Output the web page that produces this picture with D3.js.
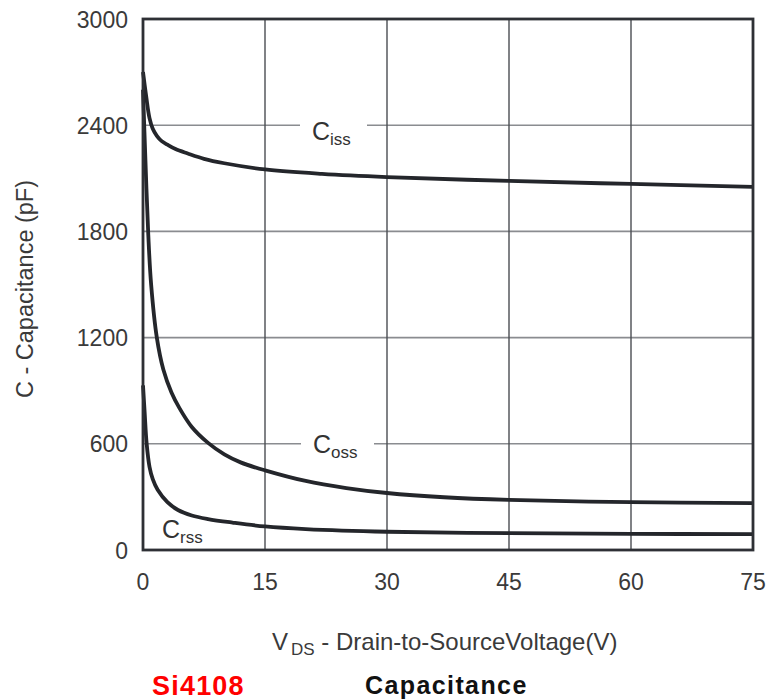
<!DOCTYPE html>
<html>
<head>
<meta charset="utf-8">
<script src="https://cdn.jsdelivr.net/npm/d3@7/dist/d3.min.js"></script>
<style>
  body { margin: 0; background: #fff; }
  svg { display: block; font-family: "Liberation Sans", Arial, sans-serif; }
</style>
</head>
<body>
<svg id="chart" width="767" height="700"></svg>
<script>
// values (V in volts, C in pF)
const ciss = [[0, 2700], [0.4, 2560], [0.8, 2440], [1.2, 2380], [1.7, 2340], [2.3, 2310], [3, 2290], [4, 2265], [5.5, 2240], [7.5, 2210], [10, 2185], [15, 2150], [22, 2125], [30, 2107], [45, 2085], [60, 2068], [75, 2052]];
const coss = [[0, 2600], [0.3, 2200], [0.65, 1780], [1, 1500], [1.7, 1200], [2.5, 1020], [3.5, 890], [4.5, 800], [6, 695], [8, 605], [10, 540], [12, 495], [15, 450], [20, 390], [25, 350], [30, 322], [37, 298], [45, 283], [60, 270], [75, 265]];
const crss = [[0, 930], [0.2, 780], [0.45, 600], [0.8, 470], [1.2, 400], [1.8, 340], [3, 270], [4.3, 226], [6, 195], [8, 175], [11, 155], [15, 133], [20, 118], [30, 103], [45, 95], [60, 91], [75, 90]];
const seriesNames = ['iss', 'oss', 'rss'];
const xTicks = [0, 15, 30, 45, 60, 75];
const yTicks = [0, 600, 1200, 1800, 2400, 3000];

const plotL = 143, plotR = 753, plotT = 19, plotB = 550;
const svg = d3.select('#chart');

const x = d3.scaleLinear().domain([0, 75]).range([plotL, plotR]);
const y = d3.scaleLinear().domain([0, 3000]).range([plotB, plotT]);

// grid
svg.append('g').selectAll('line')
  .data(yTicks.slice(1, -1))
  .join('line')
  .attr('x1', plotL).attr('x2', plotR)
  .attr('y1', d => y(d)).attr('y2', d => y(d))
  .attr('stroke', '#8a8c90').attr('stroke-width', 1.6);

svg.append('g').selectAll('line')
  .data(xTicks.slice(1, -1))
  .join('line')
  .attr('x1', d => x(d)).attr('x2', d => x(d))
  .attr('y1', plotT).attr('y2', plotB)
  .attr('stroke', '#4a4d52').attr('stroke-width', 1.4);

// tick labels
svg.append('g').selectAll('text')
  .data(xTicks)
  .join('text')
  .attr('x', d => x(d)).attr('y', 590)
  .attr('text-anchor', 'middle').attr('font-size', 23).attr('fill', '#3a3a3a')
  .text(d => d);

svg.append('g').selectAll('text')
  .data(yTicks)
  .join('text')
  .attr('x', plotL - 15).attr('y', d => y(d) + 8.5)
  .attr('text-anchor', 'end').attr('font-size', 23).attr('fill', '#3a3a3a')
  .text(d => d);

// white gaps in the grid lines behind the curve names
const gaps = [{ x0: 300, x1: 367, v: 2400 }, { x0: 301, x1: 374, v: 600 }];
svg.append('g').selectAll('rect')
  .data(gaps)
  .join('rect')
  .attr('x', d => d.x0).attr('y', d => y(d.v) - 3)
  .attr('width', d => d.x1 - d.x0).attr('height', 6)
  .attr('fill', '#fff');

// curve names
const namePos = [[312, 140], [313, 453], [162, 538]];
seriesNames.forEach((n, i) => {
  const t = svg.append('text').attr('x', namePos[i][0]).attr('y', namePos[i][1])
    .attr('font-size', 25).attr('fill', '#333');
  t.append('tspan').text('C');
  t.append('tspan').attr('dy', 5).attr('font-size', 17).text(n);
});

// curves
const line = d3.line().x(d => x(d[0])).y(d => y(d[1])).curve(d3.curveCatmullRom.alpha(0.5));
svg.append('g').selectAll('path')
  .data([ciss, coss, crss])
  .join('path')
  .attr('d', line)
  .attr('fill', 'none')
  .attr('stroke', '#24262b')
  .attr('stroke-width', 3.8);

// frame
svg.append('rect')
  .attr('x', plotL).attr('y', plotT)
  .attr('width', plotR - plotL).attr('height', plotB - plotT)
  .attr('fill', 'none').attr('stroke', '#2e3035').attr('stroke-width', 2.8);

// axis titles
svg.append('text')
  .attr('transform', 'translate(33,289) rotate(-90)')
  .attr('text-anchor', 'middle').attr('font-size', 23.5).attr('fill', '#3a3a3a')
  .text('C - Capacitance (pF)');

const xt = svg.append('text').attr('x', 272).attr('y', 650)
  .attr('font-size', 24).attr('fill', '#3a3a3a');
xt.append('tspan').text('V');
xt.append('tspan').attr('dx', 3).attr('dy', 5).attr('font-size', 17).text('DS');
xt.append('tspan').attr('dy', -5).text(' - Drain-to-SourceVoltage(V)');

svg.append('text').attr('x', 152).attr('y', 695)
  .attr('font-size', 27).attr('font-weight', 'bold').attr('fill', '#ff0000')
  .attr('letter-spacing', 1.2)
  .text('Si4108');
svg.append('text').attr('x', 365).attr('y', 694)
  .attr('font-size', 25).attr('font-weight', 'bold').attr('fill', '#111')
  .attr('letter-spacing', 1.4)
  .text('Capacitance');
</script>
</body>
</html>
